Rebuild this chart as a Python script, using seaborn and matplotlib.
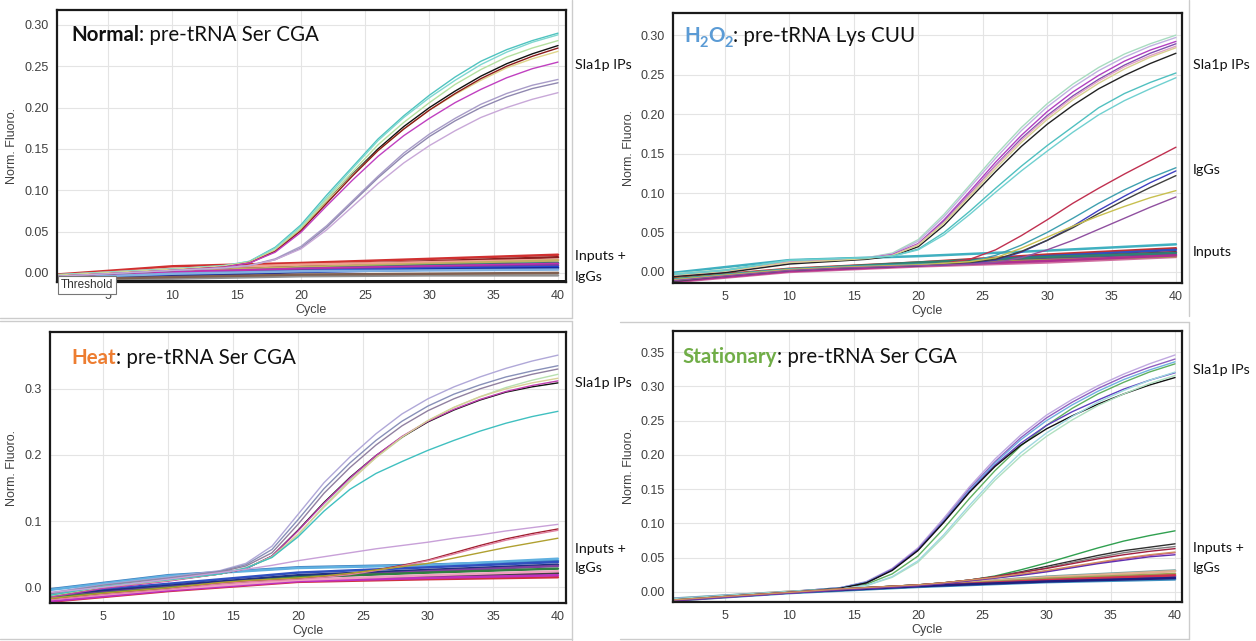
import numpy as np
import pandas as pd
import matplotlib
matplotlib.use("Agg")
import matplotlib.pyplot as plt
from matplotlib.lines import Line2D
from matplotlib.ticker import FormatStrFormatter
import seaborn as sns

AMP_CYC = [1, 5, 10, 14, 16, 18, 20, 22, 24, 26, 28, 30, 32, 34, 36, 38, 40]
FLAT_CYC = [1, 10, 20, 30, 40]

# ---- Normal: pre-tRNA Ser CGA ----
normal_amp = [
    [-0.003, 0.000, 0.004, 0.008, 0.014, 0.031, 0.058, 0.094, 0.128, 0.162, 0.190, 0.215, 0.237, 0.256, 0.270, 0.281, 0.290],
    [-0.002, 0.001, 0.005, 0.009, 0.014, 0.030, 0.056, 0.091, 0.126, 0.160, 0.188, 0.212, 0.233, 0.252, 0.267, 0.279, 0.288],
    [-0.004, -0.001, 0.003, 0.007, 0.013, 0.027, 0.052, 0.086, 0.119, 0.150, 0.177, 0.200, 0.220, 0.238, 0.253, 0.265, 0.275],
    [-0.003, 0.000, 0.004, 0.008, 0.013, 0.028, 0.054, 0.089, 0.122, 0.155, 0.182, 0.206, 0.228, 0.246, 0.261, 0.272, 0.281],
    [-0.003, 0.000, 0.004, 0.008, 0.013, 0.027, 0.052, 0.086, 0.118, 0.148, 0.174, 0.197, 0.216, 0.233, 0.248, 0.259, 0.268],
    [-0.004, -0.001, 0.003, 0.007, 0.012, 0.026, 0.051, 0.084, 0.117, 0.148, 0.174, 0.197, 0.217, 0.235, 0.250, 0.262, 0.272],
    [-0.004, -0.001, 0.003, 0.007, 0.012, 0.025, 0.049, 0.081, 0.112, 0.141, 0.166, 0.187, 0.206, 0.222, 0.236, 0.247, 0.255],
    [-0.004, -0.001, 0.003, 0.006, 0.009, 0.017, 0.032, 0.057, 0.087, 0.117, 0.145, 0.168, 0.187, 0.204, 0.217, 0.227, 0.234],
    [-0.004, -0.001, 0.003, 0.006, 0.009, 0.016, 0.030, 0.055, 0.085, 0.115, 0.142, 0.165, 0.184, 0.200, 0.213, 0.223, 0.230],
    [-0.004, -0.001, 0.003, 0.006, 0.009, 0.016, 0.029, 0.052, 0.080, 0.108, 0.133, 0.154, 0.172, 0.188, 0.200, 0.210, 0.218],
]
normal_amp_colors = ["#4fc3c0", "#7fd8d0", "#111111", "#b5e0a0", "#e0d58a", "#8b1a1a",
                     "#c040c0", "#a89cc8", "#9088b0", "#c8a8d8"]
normal_flat = [
    [-0.002, 0.008, 0.012, 0.017, 0.022],
    [-0.004, 0.004, 0.009, 0.014, 0.019],
    [-0.003, 0.005, 0.010, 0.013, 0.016],
    [-0.005, 0.002, 0.007, 0.011, 0.015],
    [-0.006, 0.000, 0.005, 0.009, 0.012],
    [-0.005, 0.001, 0.005, 0.008, 0.011],
    [-0.007, -0.002, 0.003, 0.006, 0.009],
    [-0.008, -0.003, 0.002, 0.005, 0.007],
    [-0.009, -0.004, 0.001, 0.004, 0.006],
    [-0.006, -0.001, 0.002, 0.003, 0.004],
    [-0.009, -0.007, -0.004, -0.003, -0.003],
    [-0.008, -0.005, -0.002, -0.001, 0.000],
]
normal_flat_colors = ["#d03030", "#8b2020", "#f0a090", "#c0b060", "#2e7d6e", "#c030b0",
                      "#7040a0", "#2050e0", "#1a2a9a", "#80b0e0", "#909090", "#806050"]

# ---- H2O2: pre-tRNA Lys CUU ----
h2o2_amp = [
    [-0.002, 0.003, 0.014, 0.016, 0.018, 0.024, 0.041, 0.073, 0.110, 0.148, 0.183, 0.213, 0.238, 0.259, 0.276, 0.289, 0.300],
    [-0.003, 0.002, 0.013, 0.016, 0.018, 0.023, 0.039, 0.070, 0.107, 0.144, 0.179, 0.209, 0.234, 0.255, 0.272, 0.286, 0.297],
    [-0.004, 0.001, 0.012, 0.015, 0.017, 0.022, 0.036, 0.066, 0.102, 0.139, 0.173, 0.203, 0.228, 0.249, 0.267, 0.281, 0.292],
    [-0.005, 0.000, 0.011, 0.015, 0.017, 0.021, 0.035, 0.064, 0.099, 0.135, 0.169, 0.198, 0.223, 0.244, 0.262, 0.277, 0.289],
    [-0.004, 0.001, 0.012, 0.015, 0.017, 0.021, 0.035, 0.063, 0.098, 0.134, 0.167, 0.196, 0.221, 0.242, 0.260, 0.274, 0.286],
    [-0.006, -0.001, 0.010, 0.014, 0.016, 0.020, 0.032, 0.059, 0.093, 0.127, 0.159, 0.187, 0.211, 0.232, 0.249, 0.264, 0.277],
    [-0.004, 0.001, 0.012, 0.015, 0.017, 0.021, 0.034, 0.062, 0.096, 0.131, 0.164, 0.193, 0.218, 0.239, 0.257, 0.272, 0.284],
    [-0.003, 0.002, 0.015, 0.017, 0.018, 0.020, 0.029, 0.050, 0.077, 0.106, 0.134, 0.160, 0.184, 0.208, 0.226, 0.240, 0.252],
    [-0.003, 0.002, 0.015, 0.017, 0.018, 0.020, 0.028, 0.047, 0.073, 0.101, 0.128, 0.153, 0.177, 0.199, 0.217, 0.232, 0.246],
    # IgGs
    [-0.010, -0.004, 0.003, 0.006, 0.007, 0.008, 0.009, 0.011, 0.016, 0.028, 0.046, 0.066, 0.087, 0.106, 0.124, 0.141, 0.158],
    [-0.009, -0.003, 0.004, 0.007, 0.008, 0.009, 0.010, 0.011, 0.013, 0.021, 0.034, 0.050, 0.068, 0.087, 0.104, 0.119, 0.132],
    [-0.011, -0.005, 0.002, 0.005, 0.006, 0.007, 0.008, 0.009, 0.011, 0.015, 0.025, 0.040, 0.058, 0.078, 0.096, 0.113, 0.128],
    [-0.012, -0.005, 0.002, 0.005, 0.006, 0.007, 0.008, 0.010, 0.012, 0.016, 0.026, 0.040, 0.056, 0.074, 0.091, 0.107, 0.122],
    [-0.010, -0.004, 0.003, 0.006, 0.007, 0.008, 0.009, 0.011, 0.013, 0.018, 0.030, 0.044, 0.058, 0.071, 0.083, 0.094, 0.103],
    [-0.011, -0.005, 0.002, 0.005, 0.006, 0.007, 0.008, 0.009, 0.010, 0.012, 0.018, 0.028, 0.040, 0.054, 0.068, 0.082, 0.095],
]
h2o2_amp_colors = ["#a8dcc0", "#c0b0e0", "#b040c0", "#8050b0", "#e0a0c8", "#222222",
                   "#d8d090", "#50c0c0", "#70d0d0",
                   "#c03050", "#40a0b0", "#4040c0", "#404040", "#c8c050", "#9050a0"]
h2o2_flat = [
    [-0.001, 0.015, 0.020, 0.027, 0.035],
    [-0.008, 0.004, 0.012, 0.022, 0.030],
    [-0.010, 0.002, 0.011, 0.020, 0.028],
    [-0.012, 0.001, 0.010, 0.018, 0.025],
    [-0.013, 0.000, 0.007, 0.012, 0.019],
    [-0.011, 0.002, 0.009, 0.016, 0.022],
    [-0.009, 0.003, 0.010, 0.015, 0.020],
    [-0.010, 0.003, 0.012, 0.019, 0.024],
    [-0.012, 0.001, 0.008, 0.014, 0.021],
]
h2o2_flat_colors = ["#40b0c0", "#c03030", "#3050c0", "#802040", "#d070a0",
                    "#7040a0", "#a0a040", "#308070", "#b03090"]

# ---- Heat: pre-tRNA Ser CGA ----
heat_amp = [
    [-0.008, 0.004, 0.015, 0.025, 0.036, 0.062, 0.110, 0.158, 0.197, 0.232, 0.262, 0.285, 0.303, 0.318, 0.331, 0.342, 0.351],
    [-0.009, 0.003, 0.014, 0.024, 0.034, 0.057, 0.102, 0.149, 0.188, 0.222, 0.251, 0.274, 0.292, 0.306, 0.318, 0.327, 0.335],
    [-0.010, 0.002, 0.013, 0.023, 0.032, 0.052, 0.095, 0.142, 0.181, 0.215, 0.244, 0.267, 0.285, 0.300, 0.312, 0.322, 0.330],
    [-0.012, 0.001, 0.011, 0.020, 0.029, 0.045, 0.078, 0.123, 0.162, 0.196, 0.226, 0.252, 0.272, 0.288, 0.302, 0.313, 0.322],
    [-0.014, -0.001, 0.010, 0.020, 0.028, 0.047, 0.086, 0.128, 0.166, 0.199, 0.227, 0.250, 0.268, 0.283, 0.295, 0.303, 0.309],
    [-0.015, -0.002, 0.009, 0.020, 0.028, 0.047, 0.085, 0.127, 0.165, 0.199, 0.228, 0.251, 0.269, 0.284, 0.296, 0.305, 0.312],
    [-0.013, 0.000, 0.010, 0.020, 0.029, 0.046, 0.080, 0.121, 0.160, 0.196, 0.227, 0.252, 0.272, 0.288, 0.300, 0.309, 0.316],
    [-0.012, 0.001, 0.011, 0.020, 0.029, 0.045, 0.076, 0.115, 0.148, 0.172, 0.190, 0.207, 0.222, 0.236, 0.248, 0.258, 0.266],
    # inputs + IgGs that creep up
    [-0.008, 0.000, 0.012, 0.022, 0.027, 0.033, 0.040, 0.046, 0.052, 0.058, 0.063, 0.068, 0.074, 0.079, 0.085, 0.090, 0.095],
    [-0.018, -0.010, -0.002, 0.006, 0.009, 0.011, 0.013, 0.016, 0.020, 0.026, 0.033, 0.041, 0.052, 0.063, 0.073, 0.081, 0.088],
    [-0.019, -0.011, -0.003, 0.005, 0.008, 0.010, 0.012, 0.015, 0.019, 0.025, 0.032, 0.040, 0.050, 0.061, 0.071, 0.079, 0.086],
    [-0.017, -0.009, -0.001, 0.007, 0.010, 0.012, 0.014, 0.017, 0.021, 0.026, 0.031, 0.036, 0.044, 0.052, 0.060, 0.067, 0.074],
]
heat_amp_colors = ["#b0a8d8", "#8890b8", "#9080a0", "#b8e0b0", "#111111", "#c040b0",
                   "#d8d098", "#40c0c0",
                   "#c8a0d8", "#a02030", "#e080a0", "#b0a030"]
heat_flat = [
    [-0.003, 0.018, 0.030, 0.034, 0.040],
    [-0.004, 0.017, 0.029, 0.033, 0.043],
    [-0.010, 0.005, 0.022, 0.030, 0.038],
    [-0.012, 0.002, 0.018, 0.026, 0.034],
    [-0.015, 0.000, 0.014, 0.024, 0.032],
    [-0.016, -0.001, 0.015, 0.022, 0.028],
    [-0.020, -0.004, 0.010, 0.016, 0.021],
    [-0.022, -0.006, 0.008, 0.012, 0.015],
    [-0.021, -0.005, 0.009, 0.014, 0.018],
    [-0.018, -0.003, 0.011, 0.018, 0.024],
]
heat_flat_colors = ["#4080c0", "#60b0e0", "#3050c0", "#203080", "#8040a0",
                    "#308040", "#404040", "#d03040", "#c030c0", "#f0a0c0"]

# ---- Stationary: pre-tRNA Ser CGA ----
stat_amp = [
    [-0.010, -0.006, 0.000, 0.006, 0.015, 0.034, 0.064, 0.107, 0.153, 0.194, 0.229, 0.258, 0.281, 0.301, 0.318, 0.333, 0.346],
    [-0.011, -0.006, 0.000, 0.006, 0.014, 0.033, 0.062, 0.104, 0.150, 0.190, 0.225, 0.254, 0.277, 0.297, 0.314, 0.328, 0.340],
    [-0.010, -0.005, 0.000, 0.006, 0.014, 0.032, 0.061, 0.103, 0.148, 0.188, 0.222, 0.250, 0.273, 0.293, 0.310, 0.324, 0.336],
    [-0.011, -0.006, 0.000, 0.005, 0.011, 0.026, 0.052, 0.092, 0.136, 0.177, 0.213, 0.243, 0.268, 0.289, 0.306, 0.321, 0.333],
    [-0.012, -0.007, -0.001, 0.005, 0.013, 0.032, 0.061, 0.102, 0.146, 0.185, 0.217, 0.243, 0.263, 0.280, 0.296, 0.309, 0.320],
    [-0.012, -0.007, -0.001, 0.005, 0.013, 0.031, 0.060, 0.101, 0.145, 0.183, 0.214, 0.238, 0.257, 0.274, 0.289, 0.302, 0.313],
    [-0.011, -0.006, 0.000, 0.004, 0.009, 0.021, 0.043, 0.080, 0.122, 0.163, 0.198, 0.227, 0.251, 0.272, 0.289, 0.304, 0.316],
    [-0.011, -0.006, 0.000, 0.004, 0.009, 0.022, 0.045, 0.083, 0.126, 0.167, 0.203, 0.232, 0.256, 0.277, 0.294, 0.309, 0.321],
    # inputs + IgGs that creep up
    [-0.012, -0.007, -0.001, 0.004, 0.006, 0.008, 0.010, 0.013, 0.017, 0.023, 0.032, 0.042, 0.053, 0.064, 0.074, 0.082, 0.089],
    [-0.012, -0.007, -0.001, 0.004, 0.006, 0.008, 0.010, 0.013, 0.017, 0.022, 0.029, 0.037, 0.045, 0.053, 0.060, 0.065, 0.070],
    [-0.012, -0.007, -0.001, 0.004, 0.006, 0.008, 0.010, 0.013, 0.017, 0.022, 0.028, 0.035, 0.043, 0.050, 0.057, 0.062, 0.066],
    [-0.013, -0.007, -0.001, 0.004, 0.006, 0.008, 0.010, 0.013, 0.017, 0.022, 0.028, 0.034, 0.041, 0.048, 0.054, 0.059, 0.063],
    [-0.013, -0.008, -0.002, 0.003, 0.005, 0.007, 0.009, 0.012, 0.016, 0.020, 0.025, 0.030, 0.036, 0.042, 0.048, 0.053, 0.057],
    [-0.013, -0.008, -0.002, 0.003, 0.005, 0.007, 0.009, 0.012, 0.016, 0.020, 0.024, 0.029, 0.035, 0.041, 0.046, 0.051, 0.054],
    [-0.012, -0.007, -0.001, 0.004, 0.006, 0.008, 0.010, 0.013, 0.017, 0.021, 0.026, 0.031, 0.037, 0.043, 0.049, 0.054, 0.058],
]
stat_amp_colors = ["#c0a8e0", "#9060c0", "#70b0e0", "#60b060", "#6040c0", "#111111",
                   "#b0e0c0", "#a0d8e0",
                   "#30a050", "#303030", "#808080", "#a02040", "#c040a0", "#6030b0", "#d09060"]
stat_flat = [
    [-0.010, 0.000, 0.009, 0.022, 0.031],
    [-0.011, 0.000, 0.009, 0.021, 0.030],
    [-0.012, -0.001, 0.008, 0.019, 0.026],
    [-0.012, -0.001, 0.008, 0.016, 0.022],
    [-0.013, -0.001, 0.008, 0.017, 0.024],
    [-0.013, -0.002, 0.007, 0.014, 0.018],
    [-0.012, -0.001, 0.008, 0.015, 0.020],
]
stat_flat_colors = ["#70a0a0", "#e0b090", "#a0a050", "#3050d0", "#d03050", "#4090c0", "#202080"]

TITLE_FONT = ["Lato", "DejaVu Sans"]
H2O2_BLUE = "#5b9bd5"
HEAT_ORANGE = "#ed7d31"
STAT_GREEN = "#70ad47"
TITLE_SIZE = 14.8

sns.set_style("white")
plt.rcParams["font.family"] = ["Liberation Sans", "DejaVu Sans"]

W, H = 1256, 641
fig = plt.figure(figsize=(W / 100, H / 100), dpi=100)


def px_axes(x0, y0, x1, y1):
    return fig.add_axes([x0 / W, 1 - y1 / H, (x1 - x0) / W, (y1 - y0) / H])


def draw_curves(ax, curves, cycles, colors, lw):
    rows = [(f"w{i}", c, v) for i, vals in enumerate(curves) for c, v in zip(cycles, vals)]
    df = pd.DataFrame(rows, columns=["well", "cycle", "fluoro"])
    sns.lineplot(data=df, x="cycle", y="fluoro", hue="well", palette=colors,
                 estimator=None, legend=False, lw=lw, ax=ax)


def style_axis(ax, xlim, ylim, yticks, yfmt, ylab_x):
    ax.set_xlim(xlim)
    ax.set_ylim(ylim)
    ax.set_xticks(range(5, 41, 5))
    ax.set_yticks(yticks)
    ax.yaxis.set_major_formatter(FormatStrFormatter(yfmt))
    ax.grid(True, color="#e4e4e4", lw=0.8)
    ax.set_axisbelow(True)
    for s in ax.spines.values():
        s.set_color("#1a1a1a")
        s.set_linewidth(1.6)
    ax.tick_params(length=3, width=0.8, color="#555555", labelsize=9,
                   labelcolor="#404040", pad=3)
    ax.set_xlabel("Cycle", fontsize=9, color="#404040")
    ax.set_ylabel("Norm. Fluoro.", fontsize=9, color="#404040")
    ax.xaxis.set_label_coords(0.5, -0.082)
    ax.yaxis.set_label_coords(ylab_x, 0.5)


def draw_title(ax, x, y, parts):
    prev = None
    for text, color, weight, size, dy in parts:
        kw = dict(color=color, fontweight=weight, fontsize=size, va="baseline",
                  ha="left", family=TITLE_FONT)
        if prev is None:
            prev = ax.text(x, y + dy, text, transform=ax.transAxes, **kw)
        else:
            prev = ax.annotate(text, xy=(1, y + dy), xycoords=(prev, ax.transAxes), **kw)


def side_label(x, y, text):
    fig.text(x / W, 1 - y / H, text, fontsize=10.3, family=TITLE_FONT, color="#111111",
             ha="left", va="center")


# ---- Normal ----
ax1 = px_axes(57, 10, 566, 282)
draw_curves(ax1, normal_flat, FLAT_CYC, normal_flat_colors, 1.8)
draw_curves(ax1, normal_amp, AMP_CYC, normal_amp_colors, 1.0)
ax1.axhline(-0.0092, color="#111111", lw=1.4)
style_axis(ax1, (1.03, 40.62), (-0.011, 0.318), np.arange(0, 0.301, 0.05), "%.2f", -0.077)
ax1.text(0.059, -0.011, "Threshold", transform=ax1.transAxes, fontsize=8.5, color="#333333",
         ha="center", va="center", clip_on=False, zorder=10,
         bbox=dict(boxstyle="square,pad=0.22", fc="white", ec="#777777", lw=0.8))
draw_title(ax1, 0.0275, 0.886, [("Normal", "#111111", "bold", TITLE_SIZE, 0),
                                (": pre-tRNA Ser CGA", "#111111", "normal", TITLE_SIZE, 0)])

# ---- H2O2 ----
ax2 = px_axes(673, 13, 1182, 283)
draw_curves(ax2, h2o2_flat, FLAT_CYC, h2o2_flat_colors, 1.8)
draw_curves(ax2, h2o2_amp, AMP_CYC, h2o2_amp_colors, 1.0)
style_axis(ax2, (0.96, 40.47), (-0.014, 0.328), np.arange(0, 0.301, 0.05), "%.2f", -0.075)
draw_title(ax2, 0.0216, 0.893, [("H", H2O2_BLUE, "bold", TITLE_SIZE, 0),
                                ("2", H2O2_BLUE, "bold", 10.5, -0.02),
                                ("O", H2O2_BLUE, "bold", TITLE_SIZE, 0),
                                ("2", H2O2_BLUE, "bold", 10.5, -0.02),
                                (": pre-tRNA Lys CUU", "#111111", "normal", TITLE_SIZE, 0)])

# ---- Heat ----
ax3 = px_axes(50, 332, 566, 603)
draw_curves(ax3, heat_flat, FLAT_CYC, heat_flat_colors, 1.8)
draw_curves(ax3, heat_amp, AMP_CYC, heat_amp_colors, 1.0)
style_axis(ax3, (0.92, 40.62), (-0.024, 0.386), [0.0, 0.1, 0.2, 0.3], "%.1f", -0.062)
draw_title(ax3, 0.041, 0.882, [("Heat", HEAT_ORANGE, "bold", TITLE_SIZE, 0),
                               (": pre-tRNA Ser CGA", "#111111", "normal", TITLE_SIZE, 0)])

# ---- Stationary ----
ax4 = px_axes(673, 331, 1182, 602)
draw_curves(ax4, stat_flat, FLAT_CYC, stat_flat_colors, 1.8)
draw_curves(ax4, stat_amp, AMP_CYC, stat_amp_colors, 1.0)
style_axis(ax4, (0.96, 40.54), (-0.015, 0.381), np.arange(0, 0.351, 0.05), "%.2f", -0.075)
draw_title(ax4, 0.0196, 0.882, [("Stationary", STAT_GREEN, "bold", TITLE_SIZE, 0),
                                (": pre-tRNA Ser CGA", "#111111", "normal", TITLE_SIZE, 0)])

# group labels to the right of each panel
side_label(575, 65, "Sla1p IPs")
side_label(575, 256, "Inputs +")
side_label(575, 277, "IgGs")
side_label(1193, 65, "Sla1p IPs")
side_label(1193, 170, "IgGs")
side_label(1193, 252, "Inputs")
side_label(575, 383, "Sla1p IPs")
side_label(575, 549, "Inputs +")
side_label(575, 568, "IgGs")
side_label(1193, 370, "Sla1p IPs")
side_label(1193, 548, "Inputs +")
side_label(1193, 568, "IgGs")

# faint screenshot borders around the panels
for (x0, y0, x1, y1) in [(572, 0, 572, 318), (0, 318, 572, 318), (0, 321, 572, 321),
                         (572, 321, 572, 640), (0, 639, 572, 639), (1189, 0, 1189, 316),
                         (620, 322, 1189, 322), (1189, 322, 1189, 639), (620, 639, 1189, 639)]:
    fig.add_artist(Line2D([x0 / W, x1 / W], [1 - y0 / H, 1 - y1 / H], color="#cccccc", lw=1.0))

fig.savefig("out.png", dpi=100)
